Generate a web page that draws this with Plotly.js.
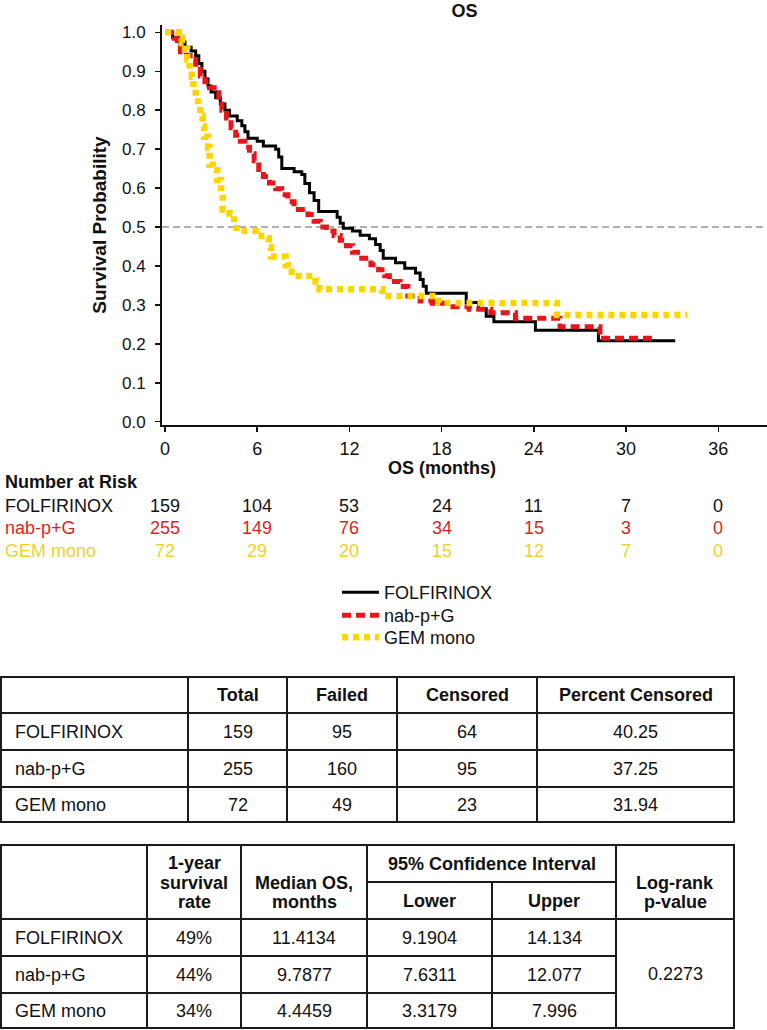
<!DOCTYPE html>
<html><head><meta charset="utf-8">
<script src="https://cdn.plot.ly/plotly-3.0.1.min.js"></script>
<style>html,body{margin:0;padding:0;background:#fff;} #chart{width:767px;height:1030px;}</style>
</head><body><div id="chart"></div>
<script>
// ---------------- DATA ----------------
const groups = ['FOLFIRINOX', 'nab-p+G', 'GEM mono'];

const folfTime = [0, 0.5, 0.9, 1.3, 1.7, 2.0, 2.2, 2.4, 2.6, 2.8, 3.0, 3.3, 3.6, 3.9, 4.2, 4.7, 5.0, 5.2, 5.4, 6.0, 6.4, 7.2, 7.4, 7.6, 8.4, 8.9, 9.1, 9.4, 9.7, 10.0, 11.2, 11.4, 11.6, 12.2, 12.7, 13.3, 13.7, 14.0, 14.2, 15.0, 15.6, 16.3, 16.6, 16.8, 17.0, 19.6, 20.4, 20.9, 21.4, 24.1, 28.2, 33.2];
const folfSurv = [1.0, 0.987, 0.975, 0.962, 0.952, 0.94, 0.92, 0.9, 0.88, 0.862, 0.847, 0.832, 0.816, 0.8, 0.785, 0.773, 0.76, 0.745, 0.728, 0.72, 0.708, 0.7, 0.68, 0.65, 0.642, 0.635, 0.612, 0.588, 0.568, 0.54, 0.525, 0.51, 0.497, 0.49, 0.479, 0.47, 0.455, 0.44, 0.42, 0.408, 0.394, 0.382, 0.365, 0.348, 0.33, 0.306, 0.29, 0.271, 0.257, 0.235, 0.208, 0.208];

const nabTime = [0, 0.6, 0.8, 1.0, 1.4, 1.8, 2.0, 2.3, 2.6, 2.9, 3.2, 3.5, 3.7, 4.0, 4.3, 4.6, 4.9, 5.2, 5.5, 5.8, 6.1, 6.4, 6.8, 7.2, 7.6, 8.0, 8.4, 9.3, 9.7, 10.1, 10.5, 11.0, 11.4, 11.8, 12.2, 12.8, 13.4, 13.9, 14.3, 14.6, 15.3, 15.8, 16.6, 17.4, 18.3, 19.8, 21.2, 22.8, 25.7, 28.3, 32.0];
const nabSurv = [1.0, 0.985, 0.97, 0.95, 0.94, 0.93, 0.905, 0.888, 0.873, 0.858, 0.845, 0.826, 0.8, 0.78, 0.755, 0.736, 0.72, 0.705, 0.688, 0.67, 0.648, 0.63, 0.613, 0.598, 0.583, 0.565, 0.545, 0.532, 0.515, 0.5, 0.49, 0.478, 0.466, 0.452, 0.435, 0.42, 0.403, 0.39, 0.375, 0.36, 0.347, 0.323, 0.31, 0.304, 0.295, 0.289, 0.28, 0.266, 0.244, 0.214, 0.214];

const gemTime = [0, 0.9, 1.1, 1.3, 1.45, 1.6, 1.75, 1.85, 2.0, 2.15, 2.3, 2.45, 2.55, 2.8, 2.9, 3.1, 3.4, 3.65, 3.75, 4.2, 4.5, 4.65, 5.9, 6.6, 6.75, 6.9, 7.85, 8.0, 8.7, 9.8, 10.05, 14.15, 17.8, 25.5, 34.0];
const gemSurv = [1.0, 0.986, 0.972, 0.958, 0.93, 0.902, 0.886, 0.856, 0.835, 0.813, 0.785, 0.758, 0.732, 0.704, 0.66, 0.646, 0.621, 0.59, 0.545, 0.535, 0.51, 0.49, 0.477, 0.471, 0.448, 0.424, 0.402, 0.385, 0.374, 0.36, 0.34, 0.323, 0.305, 0.274, 0.274];

const riskTimes = [0, 6, 12, 18, 24, 30, 36];
const riskFolf = [159, 104, 53, 24, 11, 7, 0];
const riskNab = [255, 149, 76, 34, 15, 3, 0];
const riskGem = [72, 29, 20, 15, 12, 7, 0];

const tbl1Header = ['Total', 'Failed', 'Censored', 'Percent Censored'];
const total = [159, 255, 72];
const failed = [95, 160, 49];
const censored = [64, 95, 23];
const pctCensored = ['40.25', '37.25', '31.94'];

const oneYearRate = ['49%', '44%', '34%'];
const medianOS = ['11.4134', '9.7877', '4.4459'];
const ciLower = ['9.1904', '7.6311', '3.3179'];
const ciUpper = ['14.134', '12.077', '7.996'];
const logRankP = '0.2273';

// ---------------- STYLE / LAYOUT ----------------
const FONT = 'Liberation Sans, Arial, Helvetica, sans-serif';
const lineColors = ['#000000', '#E8151B', '#FFD500'];
const textColors = ['#111111', '#DC1F1F', '#F0D02A'];
const W = 767, H = 1030, L = 162, T = 25, PW = 605, PH = 400;
const xp = px => (px - L) / PW;
const yp = py => (T + PH - py) / PH;

const annotations = [];
const shapes = [];
function txt(text, px, py, opt) {
  opt = opt || {};
  annotations.push({
    text: text, xref: opt.xref || 'paper', yref: 'paper',
    x: opt.xdata !== undefined ? opt.xdata : xp(px), y: yp(py),
    xanchor: opt.anchor || 'center', yanchor: 'middle', showarrow: false,
    font: {family: FONT, size: opt.size || 18, color: opt.color || '#111'}
  });
}
function hline(py, x0, x1, w) {
  shapes.push({type: 'line', xref: 'paper', yref: 'paper', x0: xp(x0), x1: xp(x1), y0: yp(py), y1: yp(py),
    line: {color: '#1a1a1a', width: w || 2}});
}
function vline(px, y0, y1, w) {
  shapes.push({type: 'line', xref: 'paper', yref: 'paper', x0: xp(px), x1: xp(px), y0: yp(y0), y1: yp(y1),
    line: {color: '#1a1a1a', width: w || 2}});
}

// median reference line
shapes.push({type: 'line', xref: 'paper', yref: 'y', x0: 0, x1: 1, y0: 0.5, y1: 0.5, layer: 'below',
  line: {color: '#8d979e', width: 1.5, dash: '7px,4px'}});

// x axis title (centered on 18 months as in the reference)
txt('<b>OS (months)</b>', 0, 468, {xref: 'x', xdata: 18});

// number at risk
txt('<b>Number at Risk</b>', 3, 482, {anchor: 'left'});
const riskRows = [riskFolf, riskNab, riskGem];
const riskY = [506, 528, 551];
riskRows.forEach((row, r) => {
  txt(groups[r], 3, riskY[r], {anchor: 'left', color: textColors[r]});
  row.forEach((v, j) => txt(String(v), 0, riskY[r], {xref: 'x', xdata: riskTimes[j], color: textColors[r]}));
});

// table 1
const t1x = [1, 188, 287, 397, 537, 734];
const t1y = [677, 713, 750, 787, 822];
t1y.forEach(y => hline(y, t1x[0] - 1, t1x[5] + 1));
t1x.forEach(x => vline(x, t1y[0], t1y[4]));
tbl1Header.forEach((h, i) => txt('<b>' + h + '</b>', (t1x[i + 1] + t1x[i + 2]) / 2, (t1y[0] + t1y[1]) / 2));
const t1cols = [total, failed, censored, pctCensored];
groups.forEach((g, r) => {
  const cy = (t1y[r + 1] + t1y[r + 2]) / 2;
  txt(g, 13, cy, {anchor: 'left'});
  t1cols.forEach((col, i) => txt(String(col[r]), (t1x[i + 1] + t1x[i + 2]) / 2, cy));
});

// table 2
const t2x = [1, 147, 241, 367, 492, 616, 734];
const t2top = 845, t2sub = 882, t2head = 919, t2rows = [919, 956, 993, 1028];
hline(t2top, t2x[0] - 1, t2x[6] + 1);
hline(t2sub, t2x[3], t2x[5]);
hline(t2head, t2x[0] - 1, t2x[6] + 1);
hline(t2rows[1], t2x[0] - 1, t2x[5]);
hline(t2rows[2], t2x[0] - 1, t2x[5]);
hline(t2rows[3], t2x[0] - 1, t2x[6] + 1);
[0, 1, 2, 3, 5, 6].forEach(i => vline(t2x[i], t2top, t2rows[3]));
vline(t2x[4], t2sub, t2rows[3]);
const c2 = i => (t2x[i] + t2x[i + 1]) / 2;
txt('<b>1-year</b>', c2(1), 863); txt('<b>survival</b>', c2(1), 883); txt('<b>rate</b>', c2(1), 902);
txt('<b>Median OS,</b>', c2(2), 883); txt('<b>months</b>', c2(2), 902);
txt('<b>95% Confidence Interval</b>', (t2x[3] + t2x[5]) / 2, 864);
txt('<b>Lower</b>', c2(3), 901); txt('<b>Upper</b>', c2(4), 901);
txt('<b>Log-rank</b>', c2(5), 883); txt('<b>p-value</b>', c2(5), 902);
const t2cols = [oneYearRate, medianOS, ciLower, ciUpper];
groups.forEach((g, r) => {
  const cy = (t2rows[r] + t2rows[r + 1]) / 2;
  txt(g, 13, cy, {anchor: 'left'});
  t2cols.forEach((col, i) => txt(col[r], c2(i + 1), cy));
});
txt(logRankP, c2(5), (t2head + t2rows[3]) / 2);

// traces
const series = [[folfTime, folfSurv], [nabTime, nabSurv], [gemTime, gemSurv]];
const lineStyles = [
  {width: 3, dash: 'solid'},
  {width: 5, dash: '9px,5px'},
  {width: 6.5, dash: '6px,5px'}
];
const legendIds = ['legend', 'legend2', 'legend3'];
const data = series.map((s, i) => ({
  type: 'scatter', mode: 'lines', name: groups[i], x: s[0], y: s[1],
  line: Object.assign({shape: 'hv', color: lineColors[i]}, lineStyles[i]),
  legend: legendIds[i], hoverinfo: 'skip'
}));

const legendRowY = [593, 616, 638];
function legendAt(py) {
  return {x: xp(337), y: yp(py - 19), xanchor: 'left', yanchor: 'top', orientation: 'v',
    bgcolor: 'rgba(0,0,0,0)', borderwidth: 0, itemwidth: 37,
    font: {family: FONT, size: 18, color: '#111'}};
}

const layout = {
  width: W, height: H,
  margin: {l: L, r: W - L - PW, t: T, b: H - T - PH, pad: 0},
  paper_bgcolor: '#fff', plot_bgcolor: '#fff',
  font: {family: FONT, size: 18, color: '#111'},
  title: {text: '<b>OS</b>', font: {family: FONT, size: 18, color: '#111'},
    xref: 'paper', x: 0.5, xanchor: 'center', yref: 'container', y: 1 - 11 / H, yanchor: 'middle'},
  xaxis: {range: [-0.195, 39.17], tickmode: 'linear', tick0: 0, dtick: 6,
    showline: true, linecolor: '#111', linewidth: 2, ticks: 'outside', ticklen: 5, tickwidth: 1.5, tickcolor: '#111',
    showgrid: false, zeroline: false, tickfont: {family: FONT, size: 18, color: '#111'}, ticklabelstandoff: 1},
  yaxis: {range: [-0.0085, 1.0189], tickmode: 'linear', tick0: 0, dtick: 0.1, tickformat: '.1f',
    showline: true, linecolor: '#111', linewidth: 2, ticks: 'outside', ticklen: 5, tickwidth: 1.5, tickcolor: '#111',
    showgrid: false, zeroline: false, tickfont: {family: FONT, size: 17, color: '#111'}, ticklabelstandoff: 6,
    title: {text: '<b>Survival Probability</b>', font: {family: FONT, size: 19, color: '#111'}, standoff: 10}},
  showlegend: true,
  legend: legendAt(legendRowY[0]),
  legend2: legendAt(legendRowY[1]),
  legend3: legendAt(legendRowY[2]),
  shapes: shapes,
  annotations: annotations
};

Plotly.newPlot('chart', data, layout, {displayModeBar: false, staticPlot: true});
</script></body></html>
